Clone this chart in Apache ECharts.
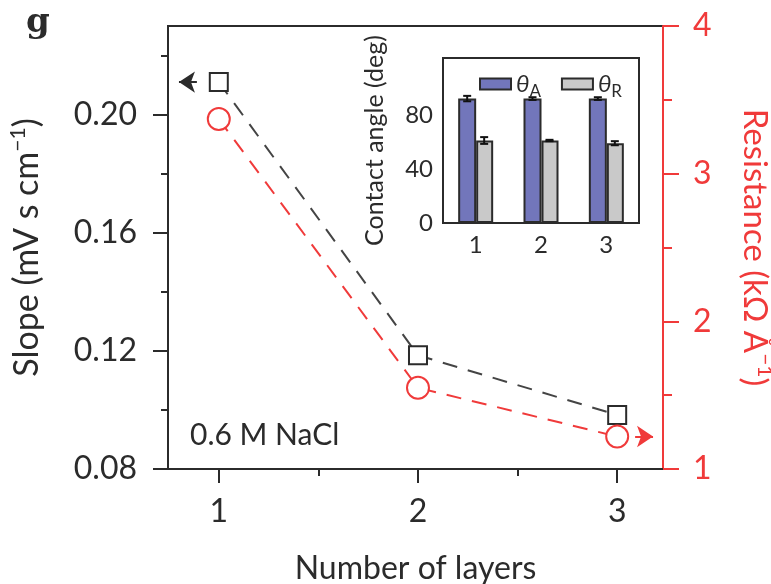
<!DOCTYPE html>
<html>
<head>
<meta charset="utf-8">
<script src="https://cdn.jsdelivr.net/npm/echarts@6/dist/echarts.min.js"></script>
<style>
  html, body { margin: 0; padding: 0; background: #fff; }
  #chart { width: 771px; height: 584px; }
</style>
</head>
<body>
<div id="chart"></div>
<script>
// Main panel: slope and resistance against number of layers
const layers = [1, 2, 3];
const slope = [0.211, 0.1185, 0.0983];          // mV s cm^-1
const resistance = [3.37, 1.55, 1.22];          // kΩ Å^-1
const slopeTicks = [0.08, 0.12, 0.16, 0.20];
const slopeMinorTicks = [0.10, 0.14, 0.18, 0.22];
const layerTicks = [1, 2, 3];
const layerMinorTicks = [1.5, 2.5];

// Inset: advancing / receding contact angles
const insetCategories = ['1', '2', '3'];
const thetaA = [92, 92, 92];
const thetaAErr = [2, 1, 1];
const thetaR = [61, 61, 59];
const thetaRErr = [2.5, 0.5, 1.5];
const angleTicks = [0, 40, 80];
const angleMinorTicks = [20, 60, 100];

// Arrows pointing each curve to its own axis
const slopeArrow = [[0.89, 0.211], [0.80, 0.211]];
const resistanceArrow = [[3.09, 1.22], [3.18, 1.22]];

const FONT = 'Lato';
const INK = '#2b2b2b';
const RED = '#f03a3a';
const BLUE = '#7276bb';
const GREY = '#c9c9c9';

const chart = echarts.init(document.getElementById('chart'), null, { renderer: 'canvas' });

function errorBarSeries(values, errs, side) {
  return {
    type: 'custom',
    xAxisIndex: 2,
    yAxisIndex: 3,
    z: 5,
    silent: true,
    data: values.map((v, i) => [i, v, errs[i]]),
    renderItem: function (params, api) {
      const i = api.value(0), v = api.value(1), e = api.value(2);
      const half = api.size([1, 0])[0] * 0.13 * side;
      const hi = api.coord([i, v + e]);
      const lo = api.coord([i, v - e]);
      const x = hi[0] + half;
      const cap = 4;
      const style = { stroke: '#111', lineWidth: 2 };
      return {
        type: 'group',
        children: [
          { type: 'line', shape: { x1: x, y1: hi[1], x2: x, y2: lo[1] }, style: style },
          { type: 'line', shape: { x1: x - cap, y1: hi[1], x2: x + cap, y2: hi[1] }, style: style },
          { type: 'line', shape: { x1: x - cap, y1: lo[1], x2: x + cap, y2: lo[1] }, style: style }
        ]
      };
    }
  };
}

const option = {
  backgroundColor: '#fff',
  animation: false,
  textStyle: { fontFamily: FONT },
  grid: [
    { left: 168, top: 26, width: 495, height: 443, containLabel: false, outerBoundsMode: 'none',
      show: true, borderColor: INK, borderWidth: 2, backgroundColor: 'transparent' },
    { left: 443, top: 58, width: 196, height: 165, containLabel: false, outerBoundsMode: 'none',
      show: true, borderColor: INK, borderWidth: 2, backgroundColor: '#fff', z: 3 }
  ],
  legend: {
    data: ['θA', 'θR'],
    left: 474,
    top: 67,
    z: 10,
    icon: 'rect',
    itemWidth: 31,
    itemHeight: 11,
    itemGap: 20,
    itemStyle: { borderColor: INK, borderWidth: 2 },
    textStyle: {
      color: INK,
      rich: {
        t: { fontSize: 24, fontStyle: 'italic', fontFamily: FONT, color: INK, lineHeight: 32, verticalAlign: 'middle' },
        s: { fontSize: 17, fontFamily: FONT, color: INK, lineHeight: 32, verticalAlign: 'bottom' }
      }
    },
    formatter: name => '{t|θ}{s|' + name.slice(1) + '}'
  },
  xAxis: [
    {
      gridIndex: 0, type: 'value', position: 'bottom', min: 0.745, max: 3.23,
      name: 'Number of layers', nameLocation: 'middle', nameGap: 84,
      nameTextStyle: { fontSize: 32, color: INK, fontFamily: FONT },
      axisLine: { lineStyle: { color: INK, width: 2 } },
      axisTick: { customValues: layerTicks, length: 14, lineStyle: { color: INK, width: 2 } },
      axisLabel: { customValues: layerTicks, fontSize: 32, color: INK, margin: 27, fontFamily: FONT },
      splitLine: { show: false }
    },
    {
      gridIndex: 0, type: 'value', position: 'bottom', min: 0.745, max: 3.23,
      axisLine: { show: false },
      axisTick: { customValues: layerMinorTicks, length: 7, lineStyle: { color: INK, width: 2 } },
      axisLabel: { show: false },
      splitLine: { show: false }
    },
    {
      gridIndex: 1, type: 'category', position: 'bottom', data: insetCategories,
      axisLine: { lineStyle: { color: INK, width: 2 } },
      axisTick: { alignWithLabel: true, length: 6, lineStyle: { color: INK, width: 2 } },
      axisLabel: { fontSize: 24, color: INK, margin: 10, fontFamily: FONT },
      z: 4
    },
    {
      gridIndex: 1, type: 'category', position: 'bottom', data: insetCategories,
      axisLine: { show: false },
      axisTick: { length: 3, lineStyle: { color: INK, width: 2 } },
      axisLabel: { show: false },
      z: 4
    }
  ],
  yAxis: [
    {
      gridIndex: 0, type: 'value', min: 0.08, max: 0.23, position: 'left',
      name: 'Slope (mV s cm{sup|−1})', nameLocation: 'middle', nameGap: 122,
      nameTextStyle: {
        fontSize: 34, color: INK, fontFamily: FONT,
        rich: { sup: { fontSize: 21, color: INK, fontFamily: FONT, verticalAlign: 'top', lineHeight: 38 } }
      },
      axisLine: { lineStyle: { color: INK, width: 2 } },
      axisTick: { customValues: slopeTicks, length: 15, lineStyle: { color: INK, width: 2 } },
      axisLabel: { customValues: slopeTicks, fontSize: 32, color: INK, margin: 31, fontFamily: FONT, formatter: v => v.toFixed(2) },
      splitLine: { show: false }
    },
    {
      gridIndex: 0, type: 'value', min: 0.08, max: 0.23, position: 'left',
      axisLine: { show: false },
      axisTick: { customValues: slopeMinorTicks, length: 7, lineStyle: { color: INK, width: 2 } },
      axisLabel: { show: false },
      splitLine: { show: false }
    },
    {
      gridIndex: 0, type: 'value', min: 1, max: 4, interval: 1, position: 'right',
      name: 'Resistance (kΩ Å{sup|−1})', nameLocation: 'middle', nameGap: 72, nameRotate: -90,
      nameTextStyle: {
        fontSize: 33, color: RED, fontFamily: FONT,
        rich: { sup: { fontSize: 21, color: RED, fontFamily: FONT, verticalAlign: 'top', lineHeight: 40 } }
      },
      axisLine: { lineStyle: { color: RED, width: 2 } },
      axisTick: { length: 16, lineStyle: { color: RED, width: 2 } },
      minorTick: { show: true, splitNumber: 2, length: 9, lineStyle: { color: RED, width: 2 } },
      axisLabel: { fontSize: 32, color: RED, margin: 30, fontFamily: FONT },
      splitLine: { show: false },
      minorSplitLine: { show: false }
    },
    {
      gridIndex: 1, type: 'value', position: 'left', min: 0, max: 122,
      name: 'Contact angle (deg)', nameLocation: 'middle', nameGap: 56,
      nameTextStyle: { fontSize: 25, color: INK, fontFamily: FONT },
      axisLine: { lineStyle: { color: INK, width: 2 } },
      axisTick: { customValues: angleTicks, length: 7, lineStyle: { color: INK, width: 2 } },
      axisLabel: { customValues: angleTicks, fontSize: 24, color: INK, margin: 10, fontFamily: FONT },
      splitLine: { show: false },
      z: 4
    },
    {
      gridIndex: 1, type: 'value', position: 'left', min: 0, max: 122,
      axisLine: { show: false },
      axisTick: { customValues: angleMinorTicks, length: 4, lineStyle: { color: INK, width: 2 } },
      axisLabel: { show: false },
      splitLine: { show: false },
      z: 4
    }
  ],
  series: [
    {
      name: 'Slope', type: 'line', xAxisIndex: 0, yAxisIndex: 0, z: 3,
      data: layers.map((x, i) => [x, slope[i]]),
      symbol: 'rect', symbolSize: 18,
      itemStyle: { color: '#fff', borderColor: INK, borderWidth: 2 },
      lineStyle: { color: '#444', width: 2, type: [15, 11] },
      markLine: {
        silent: true, symbol: ['none', 'arrow'], symbolSize: 16,
        label: { show: false },
        lineStyle: { color: INK, width: 2, type: 'solid' },
        data: [[{ coord: slopeArrow[0] }, { coord: slopeArrow[1] }]]
      }
    },
    {
      name: 'Resistance', type: 'line', xAxisIndex: 0, yAxisIndex: 2, z: 3,
      data: layers.map((x, i) => [x, resistance[i]]),
      symbol: 'circle', symbolSize: 22,
      itemStyle: { color: '#fff', borderColor: RED, borderWidth: 2 },
      lineStyle: { color: RED, width: 2, type: [15, 11] },
      markLine: {
        silent: true, symbol: ['none', 'arrow'], symbolSize: 16,
        label: { show: false },
        lineStyle: { color: RED, width: 2, type: 'solid' },
        data: [[{ coord: resistanceArrow[0] }, { coord: resistanceArrow[1] }]]
      }
    },
    {
      name: 'θA', type: 'bar', xAxisIndex: 2, yAxisIndex: 3, z: 4,
      data: thetaA, barWidth: 18, barGap: '0%',
      itemStyle: { color: BLUE, borderColor: INK, borderWidth: 2 }
    },
    {
      name: 'θR', type: 'bar', xAxisIndex: 2, yAxisIndex: 3, z: 4,
      data: thetaR, barWidth: 17, barGap: '0%',
      itemStyle: { color: GREY, borderColor: INK, borderWidth: 2 }
    },
    errorBarSeries(thetaA, thetaAErr, -1),
    errorBarSeries(thetaR, thetaRErr, 1)
  ],
  graphic: [
    { type: 'text', left: 26, top: 6, style: { text: 'g', font: 'bold 34px "DejaVu Serif"', fill: INK } },
    { type: 'text', left: 190, top: 420, z: 10, style: { text: '0.6 M NaCl', font: '30px Lato', fill: INK } }
  ]
};

chart.setOption(option);
</script>
</body>
</html>
